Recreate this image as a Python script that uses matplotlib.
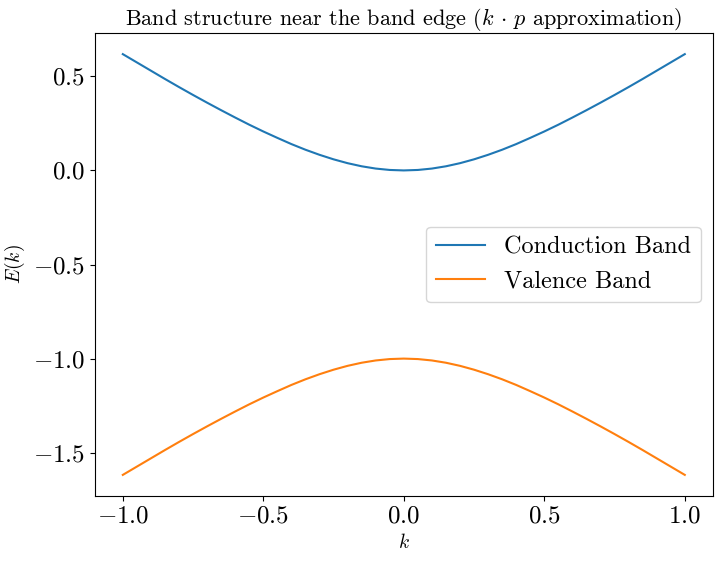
import matplotlib
matplotlib.use("Agg")
import matplotlib.pyplot as plt

plt.rcParams["font.family"] = "serif"
plt.rcParams["font.serif"] = ["cmr10"]
plt.rcParams["mathtext.fontset"] = "cm"
plt.rcParams["axes.formatter.use_mathtext"] = True

# values
k = [-1.0, -0.95, -0.9, -0.85, -0.8, -0.75, -0.7, -0.65, -0.6, -0.55, -0.5,
     -0.45, -0.4, -0.35, -0.3, -0.25, -0.2, -0.15, -0.1, -0.05, 0.0,
     0.05, 0.1, 0.15, 0.2, 0.25, 0.3, 0.35, 0.4, 0.45, 0.5,
     0.55, 0.6, 0.65, 0.7, 0.75, 0.8, 0.85, 0.9, 0.95, 1.0]
conduction = [0.618, 0.574, 0.530, 0.486, 0.443, 0.401, 0.360, 0.320, 0.281, 0.243, 0.207,
              0.173, 0.140, 0.110, 0.083, 0.059, 0.0385, 0.022, 0.0099, 0.0025, 0.0,
              0.0025, 0.0099, 0.022, 0.0385, 0.059, 0.083, 0.110, 0.140, 0.173, 0.207,
              0.243, 0.281, 0.320, 0.360, 0.401, 0.443, 0.486, 0.530, 0.574, 0.618]
valence = [-1.618, -1.574, -1.530, -1.486, -1.443, -1.401, -1.360, -1.320, -1.281, -1.243, -1.207,
           -1.173, -1.140, -1.110, -1.083, -1.059, -1.0385, -1.022, -1.0099, -1.0025, -1.0,
           -1.0025, -1.0099, -1.022, -1.0385, -1.059, -1.083, -1.110, -1.140, -1.173, -1.207,
           -1.243, -1.281, -1.320, -1.360, -1.401, -1.443, -1.486, -1.530, -1.574, -1.618]

fig, ax = plt.subplots(figsize=(7.23, 5.61), dpi=100)
fig.subplots_adjust(left=0.131, right=0.986, top=0.941, bottom=0.116)

ax.plot(k, conduction, label="Conduction Band")
ax.plot(k, valence, label="Valence Band")
ax.set_title(r"Band structure near the band edge ($k\,\cdot\,p$ approximation)", fontsize=16)
ax.set_xlabel(r"$k$", fontsize=14)
ax.set_ylabel(r"$E(k)$", fontsize=14)
ax.tick_params(labelsize=18)
ax.legend(loc="center right", fontsize=17.5)

fig.savefig("out.png", dpi=100)
